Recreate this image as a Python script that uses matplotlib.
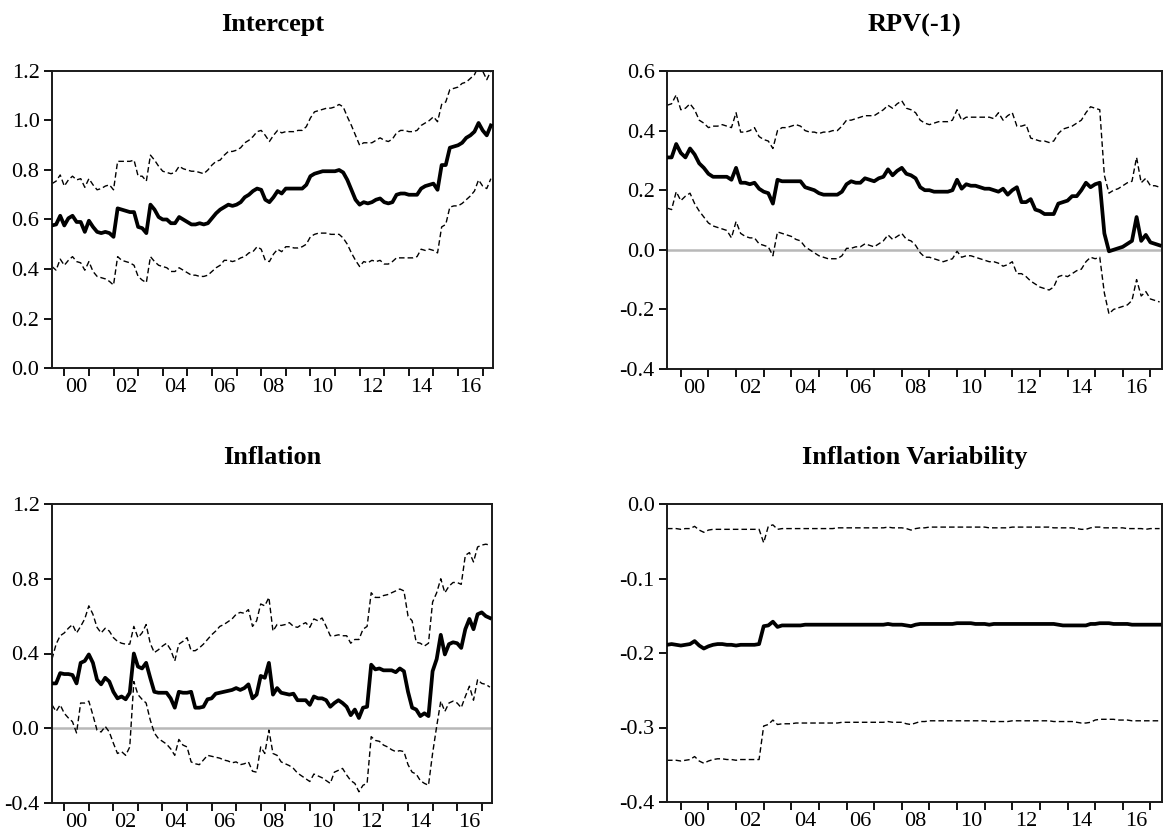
import numpy as np
import pandas as pd
import matplotlib
matplotlib.use("Agg")
import matplotlib.pyplot as plt
from matplotlib.ticker import FixedLocator, FuncFormatter

# ---------------- data (bi-monthly readings, Jul-1999 .. May-2017) ----------------
dates = pd.date_range("1999-07-01", periods=108, freq="2MS")

intercept_mid = [0.576, 0.58, 0.615,
    0.576, 0.605, 0.615, 0.59, 0.59, 0.55,
    0.595, 0.57, 0.55, 0.545, 0.55, 0.545,
    0.53, 0.645, 0.64, 0.635, 0.63, 0.63,
    0.57, 0.565, 0.545, 0.66, 0.64, 0.61,
    0.60, 0.60, 0.585, 0.585, 0.61, 0.60,
    0.59, 0.58, 0.58, 0.585, 0.58, 0.585,
    0.605, 0.625, 0.64, 0.65, 0.66, 0.655,
    0.66, 0.67, 0.69, 0.70, 0.715, 0.725,
    0.72, 0.68, 0.67, 0.69, 0.715, 0.705,
    0.725, 0.725, 0.725, 0.725, 0.725, 0.74,
    0.775, 0.785, 0.79, 0.795, 0.795, 0.795,
    0.795, 0.80, 0.79, 0.76, 0.72, 0.68,
    0.66, 0.67, 0.665, 0.67, 0.68, 0.685,
    0.67, 0.665, 0.67, 0.70, 0.705, 0.705,
    0.70, 0.70, 0.70, 0.725, 0.735, 0.74,
    0.745, 0.72, 0.82, 0.82, 0.89, 0.895,
    0.90, 0.91, 0.93, 0.94, 0.955, 0.99,
    0.96, 0.94, 0.98]
intercept_up = [0.745, 0.755, 0.78,
    0.735, 0.76, 0.775, 0.76, 0.765, 0.73,
    0.765, 0.74, 0.72, 0.725, 0.735, 0.74,
    0.72, 0.835, 0.835, 0.835, 0.835, 0.84,
    0.775, 0.775, 0.755, 0.86, 0.84, 0.815,
    0.795, 0.79, 0.785, 0.79, 0.815, 0.805,
    0.80, 0.795, 0.795, 0.79, 0.785, 0.80,
    0.82, 0.835, 0.84, 0.86, 0.875, 0.875,
    0.88, 0.89, 0.91, 0.92, 0.935, 0.955,
    0.96, 0.94, 0.915, 0.94, 0.96, 0.95,
    0.955, 0.955, 0.955, 0.96, 0.96, 0.975,
    1.01, 1.035, 1.04, 1.045, 1.05, 1.05,
    1.055, 1.065, 1.055, 1.015, 0.98, 0.94,
    0.90, 0.91, 0.91, 0.91, 0.92, 0.93,
    0.92, 0.915, 0.925, 0.95, 0.96, 0.96,
    0.955, 0.955, 0.96, 0.98, 0.99, 1.00,
    1.015, 0.995, 1.065, 1.075, 1.125, 1.13,
    1.135, 1.15, 1.155, 1.17, 1.185, 1.22,
    1.20, 1.165, 1.20]
intercept_lo = [0.41, 0.395, 0.44,
    0.415, 0.435, 0.45, 0.43, 0.425, 0.395,
    0.43, 0.39, 0.37, 0.365, 0.36, 0.35,
    0.335, 0.45, 0.435, 0.43, 0.425, 0.415,
    0.37, 0.355, 0.345, 0.45, 0.43, 0.415,
    0.41, 0.405, 0.39, 0.39, 0.405, 0.395,
    0.385, 0.375, 0.375, 0.37, 0.37, 0.375,
    0.39, 0.405, 0.415, 0.435, 0.435, 0.43,
    0.435, 0.445, 0.45, 0.465, 0.47, 0.49,
    0.48, 0.435, 0.43, 0.46, 0.48, 0.47,
    0.49, 0.49, 0.485, 0.485, 0.49, 0.50,
    0.53, 0.54, 0.545, 0.545, 0.545, 0.54,
    0.54, 0.54, 0.525, 0.50, 0.465, 0.435,
    0.41, 0.43, 0.425, 0.435, 0.43, 0.435,
    0.42, 0.42, 0.43, 0.445, 0.445, 0.445,
    0.445, 0.445, 0.45, 0.48, 0.475, 0.48,
    0.475, 0.465, 0.57, 0.58, 0.65, 0.655,
    0.655, 0.665, 0.68, 0.695, 0.715, 0.76,
    0.735, 0.725, 0.765]

rpv_mid = [0.31, 0.31, 0.355,
    0.325, 0.31, 0.34, 0.32, 0.29, 0.275,
    0.255, 0.245, 0.245, 0.245, 0.245, 0.235,
    0.275, 0.225, 0.225, 0.22, 0.225, 0.205,
    0.195, 0.19, 0.155, 0.235, 0.23, 0.23,
    0.23, 0.23, 0.23, 0.21, 0.205, 0.20,
    0.19, 0.185, 0.185, 0.185, 0.185, 0.195,
    0.22, 0.23, 0.225, 0.225, 0.24, 0.235,
    0.23, 0.24, 0.245, 0.27, 0.25, 0.265,
    0.275, 0.255, 0.25, 0.24, 0.21, 0.20,
    0.20, 0.195, 0.195, 0.195, 0.195, 0.20,
    0.235, 0.205, 0.22, 0.215, 0.215, 0.21,
    0.205, 0.205, 0.20, 0.195, 0.205, 0.185,
    0.20, 0.21, 0.16, 0.16, 0.17, 0.135,
    0.13, 0.12, 0.12, 0.12, 0.155, 0.16,
    0.165, 0.18, 0.18, 0.20, 0.225, 0.21,
    0.22, 0.225, 0.055, -0.005, 0.0, 0.005,
    0.01, 0.02, 0.03, 0.11, 0.03, 0.05,
    0.025, 0.02, 0.015]
rpv_up = [0.485, 0.49, 0.52,
    0.47, 0.475, 0.49, 0.47, 0.435, 0.425,
    0.41, 0.415, 0.415, 0.42, 0.415, 0.41,
    0.46, 0.395, 0.395, 0.40, 0.41, 0.38,
    0.37, 0.365, 0.34, 0.40, 0.41, 0.41,
    0.415, 0.42, 0.415, 0.40, 0.395, 0.395,
    0.39, 0.395, 0.395, 0.40, 0.40, 0.415,
    0.435, 0.435, 0.44, 0.445, 0.45, 0.45,
    0.45, 0.46, 0.47, 0.485, 0.475, 0.49,
    0.50, 0.475, 0.47, 0.46, 0.435, 0.425,
    0.42, 0.425, 0.43, 0.43, 0.43, 0.435,
    0.47, 0.435, 0.445, 0.445, 0.445, 0.445,
    0.445, 0.445, 0.44, 0.46, 0.435, 0.45,
    0.46, 0.415, 0.415, 0.42, 0.375, 0.37,
    0.365, 0.365, 0.36, 0.365, 0.39, 0.405,
    0.41, 0.415, 0.425, 0.435, 0.46, 0.48,
    0.475, 0.47, 0.25, 0.19, 0.20, 0.205,
    0.215, 0.225, 0.23, 0.31, 0.225, 0.24,
    0.215, 0.215, 0.21]
rpv_lo = [0.14, 0.135, 0.195,
    0.165, 0.18, 0.19, 0.155, 0.13, 0.11,
    0.09, 0.08, 0.075, 0.07, 0.065, 0.04,
    0.095, 0.055, 0.045, 0.04, 0.04, 0.02,
    0.015, 0.01, -0.02, 0.06, 0.055, 0.05,
    0.045, 0.035, 0.03, 0.01, 0.0, -0.01,
    -0.02, -0.025, -0.03, -0.03, -0.03, -0.02,
    0.005, 0.005, 0.01, 0.01, 0.02, 0.015,
    0.01, 0.02, 0.03, 0.05, 0.035, 0.045,
    0.055, 0.035, 0.03, 0.015, -0.01, -0.025,
    -0.025, -0.03, -0.035, -0.04, -0.035, -0.03,
    -0.005, -0.025, -0.02, -0.02, -0.025, -0.03,
    -0.035, -0.04, -0.04, -0.045, -0.055, -0.05,
    -0.04, -0.08, -0.08, -0.09, -0.105, -0.115,
    -0.125, -0.13, -0.135, -0.125, -0.09, -0.085,
    -0.09, -0.08, -0.07, -0.065, -0.04, -0.025,
    -0.03, -0.025, -0.145, -0.215, -0.20, -0.195,
    -0.19, -0.185, -0.17, -0.10, -0.155, -0.14,
    -0.165, -0.17, -0.175]

infl_mid = [0.24, 0.24, 0.295,
    0.29, 0.29, 0.285, 0.24, 0.35, 0.36,
    0.395, 0.35, 0.26, 0.235, 0.27, 0.25,
    0.195, 0.16, 0.17, 0.155, 0.19, 0.40,
    0.33, 0.32, 0.35, 0.27, 0.195, 0.19,
    0.19, 0.19, 0.16, 0.11, 0.195, 0.19,
    0.19, 0.195, 0.11, 0.11, 0.115, 0.155,
    0.16, 0.185, 0.19, 0.195, 0.20, 0.205,
    0.215, 0.205, 0.215, 0.235, 0.16, 0.18,
    0.28, 0.27, 0.35, 0.18, 0.215, 0.19,
    0.185, 0.18, 0.185, 0.15, 0.15, 0.15,
    0.125, 0.17, 0.16, 0.16, 0.15, 0.115,
    0.135, 0.15, 0.135, 0.115, 0.07, 0.10,
    0.055, 0.11, 0.115, 0.34, 0.315, 0.32,
    0.31, 0.31, 0.31, 0.30, 0.32, 0.305,
    0.195, 0.11, 0.10, 0.065, 0.08, 0.065,
    0.305, 0.37, 0.50, 0.395, 0.45, 0.46,
    0.455, 0.43, 0.53, 0.585, 0.53, 0.61,
    0.62, 0.60, 0.59]
infl_up = [0.37, 0.45, 0.495,
    0.51, 0.535, 0.555, 0.51, 0.545, 0.585,
    0.655, 0.61, 0.54, 0.51, 0.535, 0.52,
    0.485, 0.465, 0.455, 0.45, 0.45, 0.545,
    0.485, 0.51, 0.555, 0.455, 0.405, 0.42,
    0.44, 0.455, 0.42, 0.36, 0.45, 0.465,
    0.485, 0.415, 0.415, 0.43, 0.45, 0.475,
    0.50, 0.52, 0.545, 0.555, 0.57, 0.585,
    0.61, 0.62, 0.615, 0.635, 0.545, 0.575,
    0.665, 0.655, 0.70, 0.52, 0.555, 0.55,
    0.555, 0.565, 0.545, 0.54, 0.555, 0.565,
    0.54, 0.585, 0.575, 0.59, 0.545, 0.495,
    0.495, 0.50, 0.495, 0.495, 0.455, 0.475,
    0.475, 0.53, 0.545, 0.725, 0.70, 0.70,
    0.71, 0.715, 0.725, 0.735, 0.745, 0.735,
    0.60, 0.575, 0.46, 0.455, 0.44, 0.455,
    0.675, 0.725, 0.80, 0.725, 0.76, 0.78,
    0.78, 0.77, 0.925, 0.94, 0.89, 0.97,
    0.98, 0.985, 0.98]
infl_lo = [0.125, 0.09, 0.125,
    0.08, 0.055, 0.035, -0.025, 0.135, 0.135,
    0.145, 0.07, -0.01, -0.02, 0.01, -0.02,
    -0.08, -0.135, -0.125, -0.145, -0.10, 0.25,
    0.18, 0.155, 0.135, 0.045, -0.025, -0.055,
    -0.07, -0.085, -0.11, -0.145, -0.06, -0.09,
    -0.10, -0.18, -0.19, -0.195, -0.17, -0.145,
    -0.15, -0.155, -0.16, -0.17, -0.175, -0.185,
    -0.18, -0.195, -0.19, -0.18, -0.23, -0.235,
    -0.10, -0.135, -0.01, -0.135, -0.145, -0.18,
    -0.19, -0.20, -0.215, -0.24, -0.255, -0.27,
    -0.285, -0.245, -0.255, -0.265, -0.28, -0.295,
    -0.235, -0.225, -0.215, -0.25, -0.28, -0.295,
    -0.34, -0.305, -0.295, -0.045, -0.065, -0.07,
    -0.09, -0.10, -0.115, -0.125, -0.12, -0.125,
    -0.195, -0.235, -0.245, -0.28, -0.295, -0.305,
    -0.135, 0.01, 0.145, 0.09, 0.135, 0.145,
    0.135, 0.11, 0.17, 0.225, 0.15, 0.26,
    0.24, 0.235, 0.22]

ivar_mid = [-0.189, -0.188, -0.189,
    -0.190, -0.189, -0.188, -0.184, -0.190, -0.194,
    -0.191, -0.189, -0.188, -0.188, -0.189, -0.189,
    -0.190, -0.189, -0.189, -0.189, -0.189, -0.188,
    -0.164, -0.163, -0.158, -0.165, -0.163, -0.163,
    -0.163, -0.163, -0.163, -0.162, -0.162, -0.162,
    -0.162, -0.162, -0.162, -0.162, -0.162, -0.162,
    -0.162, -0.162, -0.162, -0.162, -0.162, -0.162,
    -0.162, -0.162, -0.162, -0.161, -0.162, -0.162,
    -0.162, -0.163, -0.164, -0.162, -0.161, -0.161,
    -0.161, -0.161, -0.161, -0.161, -0.161, -0.161,
    -0.160, -0.160, -0.160, -0.160, -0.161, -0.161,
    -0.161, -0.162, -0.161, -0.161, -0.161, -0.161,
    -0.161, -0.161, -0.161, -0.161, -0.161, -0.161,
    -0.161, -0.161, -0.161, -0.161, -0.162, -0.163,
    -0.163, -0.163, -0.163, -0.163, -0.163, -0.161,
    -0.161, -0.160, -0.160, -0.160, -0.161, -0.161,
    -0.161, -0.161, -0.162, -0.162, -0.162, -0.162,
    -0.162, -0.162, -0.162]
ivar_up = [-0.033, -0.033, -0.033,
    -0.034, -0.033, -0.033, -0.030, -0.035, -0.038,
    -0.035, -0.034, -0.034, -0.034, -0.034, -0.034,
    -0.034, -0.034, -0.034, -0.034, -0.034, -0.034,
    -0.052, -0.030, -0.028, -0.034, -0.033, -0.033,
    -0.033, -0.033, -0.033, -0.033, -0.033, -0.033,
    -0.033, -0.033, -0.033, -0.033, -0.032, -0.032,
    -0.032, -0.032, -0.032, -0.032, -0.032, -0.032,
    -0.032, -0.032, -0.032, -0.031, -0.032, -0.032,
    -0.032, -0.033, -0.035, -0.033, -0.032, -0.032,
    -0.031, -0.031, -0.031, -0.031, -0.031, -0.031,
    -0.031, -0.031, -0.031, -0.031, -0.031, -0.031,
    -0.031, -0.032, -0.032, -0.032, -0.032, -0.032,
    -0.031, -0.031, -0.031, -0.031, -0.031, -0.031,
    -0.031, -0.031, -0.031, -0.032, -0.032, -0.032,
    -0.032, -0.032, -0.033, -0.034, -0.034, -0.032,
    -0.031, -0.031, -0.032, -0.032, -0.032, -0.032,
    -0.032, -0.033, -0.033, -0.033, -0.033, -0.034,
    -0.033, -0.033, -0.033]
ivar_lo = [-0.344, -0.344, -0.344,
    -0.345, -0.344, -0.343, -0.339, -0.345, -0.348,
    -0.345, -0.343, -0.342, -0.342, -0.343, -0.343,
    -0.344, -0.343, -0.343, -0.343, -0.343, -0.343,
    -0.298, -0.296, -0.290, -0.296, -0.295, -0.295,
    -0.295, -0.294, -0.294, -0.294, -0.294, -0.294,
    -0.294, -0.294, -0.294, -0.294, -0.294, -0.293,
    -0.293, -0.293, -0.293, -0.293, -0.293, -0.293,
    -0.293, -0.293, -0.293, -0.292, -0.293, -0.293,
    -0.293, -0.295, -0.296, -0.294, -0.292, -0.292,
    -0.291, -0.291, -0.291, -0.291, -0.291, -0.291,
    -0.291, -0.291, -0.291, -0.291, -0.291, -0.291,
    -0.291, -0.292, -0.292, -0.292, -0.292, -0.292,
    -0.291, -0.291, -0.291, -0.291, -0.291, -0.291,
    -0.291, -0.291, -0.291, -0.292, -0.292, -0.292,
    -0.292, -0.292, -0.293, -0.294, -0.294, -0.293,
    -0.290, -0.289, -0.289, -0.289, -0.289, -0.290,
    -0.290, -0.290, -0.291, -0.291, -0.291, -0.291,
    -0.291, -0.291, -0.291]

titles = ["Intercept", "RPV(-1)", "Inflation", "Inflation Variability"]
yticks = [np.arange(0.0, 1.21, 0.2), np.arange(-0.4, 0.61, 0.2),
          np.arange(-0.4, 1.21, 0.4), np.arange(-0.4, 0.01, 0.1)]
ylims = [(0.0, 1.2), (-0.4, 0.6), (-0.4, 1.2), (-0.4, 0.0)]
zero_line = [False, True, True, False]
year_ticks = list(range(2000, 2018))
label_years = list(range(2000, 2017, 2))

# ---------------- drawing ----------------
plt.rcParams["font.family"] = ["Liberation Serif", "DejaVu Serif"]
x = dates.year + (dates.month - 1) / 12.0

fig = plt.figure(figsize=(11.64, 8.4), dpi=100)
rects = [[52 / 1164, 472 / 840, 441 / 1164, 297 / 840],
         [667 / 1164, 471 / 840, 495 / 1164, 298 / 840],
         [52 / 1164, 37 / 840, 440 / 1164, 299 / 840],
         [667 / 1164, 38 / 840, 495 / 1164, 298 / 840]]
series = [(intercept_mid, intercept_up, intercept_lo),
          (rpv_mid, rpv_up, rpv_lo),
          (infl_mid, infl_up, infl_lo),
          (ivar_mid, ivar_up, ivar_lo)]

def yfmt(v, pos):
    s = f"{v:.1f}"
    if s == "-0.0":
        s = "0.0"
    return s

for i, (rect, (m, u, l)) in enumerate(zip(rects, series)):
    ax = fig.add_axes(rect)
    if zero_line[i]:
        ax.axhline(0.0, color="#b8b8b8", lw=1.8, zorder=1)
    ax.plot(x, u, color="black", lw=1.0, dashes=(4, 2.2), zorder=2)
    ax.plot(x, l, color="black", lw=1.0, dashes=(4, 2.2), zorder=2)
    ax.plot(x, m, color="black", lw=2.7, zorder=3, solid_joinstyle="round")
    ax.set_xlim(1999.5, 2017.42)
    ax.set_ylim(*ylims[i])
    ax.yaxis.set_major_locator(FixedLocator(yticks[i]))
    ax.yaxis.set_major_formatter(FuncFormatter(yfmt))
    ax.xaxis.set_major_locator(FixedLocator(year_ticks))
    ax.xaxis.set_major_formatter(FuncFormatter(lambda v, p: ""))
    ax.xaxis.set_minor_locator(FixedLocator([y + 0.5 for y in label_years]))
    ax.xaxis.set_minor_formatter(FuncFormatter(lambda v, p: f"{int(v) % 100:02d}"))
    ax.tick_params(axis="x", which="major", direction="out", length=6, width=1.3,
                   top=False, labelsize=16)
    ax.tick_params(axis="x", which="minor", length=0, pad=7, labelsize=16)
    ax.tick_params(axis="y", which="major", direction="out", length=6, width=1.3,
                   right=False, labelsize=16, pad=3)
    for sp in ax.spines.values():
        sp.set_linewidth(1.4)
        sp.set_color("#1a1a1a")
    cx = rect[0] + rect[2] / 2
    ty = rect[1] + rect[3] + 46 / 840
    fig.text(cx, ty, titles[i], ha="center", va="center", fontsize=19,
             fontweight="bold", family=["Liberation Serif", "DejaVu Serif"])

fig.savefig("out.png", dpi=100)
